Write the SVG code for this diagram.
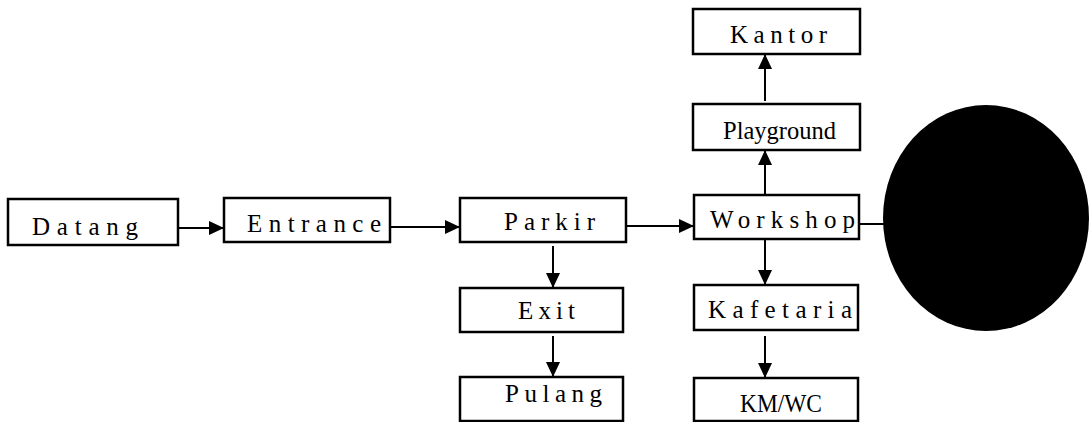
<svg xmlns="http://www.w3.org/2000/svg" width="1089" height="422" viewBox="0 0 1089 422">
<style>
.box{fill:#fff;stroke:#000;stroke-width:2.5}
.con{stroke:#000;stroke-width:2;fill:none}
.lbl{font-family:'Liberation Serif','Times New Roman',serif;font-size:25px;fill:#000}
</style>
<defs>
<marker id="ah" markerUnits="userSpaceOnUse" markerWidth="16" markerHeight="14" refX="15" refY="7" orient="auto">
<path d="M0,0 L15,7 L0,14 Z" fill="#000"/>
</marker>
</defs>
<rect width="1089" height="422" fill="#fff"/>
<g id="connectors">
<line class="con" x1="178" y1="228" x2="224" y2="228" marker-end="url(#ah)"/>
<line class="con" x1="390" y1="227" x2="460" y2="227" marker-end="url(#ah)"/>
<line class="con" x1="626" y1="226" x2="694" y2="226" marker-end="url(#ah)"/>
<line class="con" x1="859" y1="224" x2="884" y2="224"/>
<line class="con" x1="553" y1="246" x2="553" y2="288" marker-end="url(#ah)"/>
<line class="con" x1="553" y1="336" x2="553" y2="377" marker-end="url(#ah)"/>
<line class="con" x1="765" y1="239" x2="765" y2="285" marker-end="url(#ah)"/>
<line class="con" x1="765" y1="336" x2="765" y2="378" marker-end="url(#ah)"/>
<line class="con" x1="765" y1="195" x2="765" y2="150" marker-end="url(#ah)"/>
<line class="con" x1="765" y1="101" x2="765" y2="54" marker-end="url(#ah)"/>
</g>
<g id="datang"><rect class="box" x="8" y="199" width="170" height="46"/><text class="lbl" x="32" y="235" textLength="106" lengthAdjust="spacing">Datang</text></g>
<g id="entrance"><rect class="box" x="224" y="198" width="166" height="44"/><text class="lbl" x="247" y="232" textLength="134" lengthAdjust="spacing">Entrance</text></g>
<g id="parkir"><rect class="box" x="460" y="198" width="166" height="44"/><text class="lbl" x="504" y="230" textLength="91" lengthAdjust="spacing">Parkir</text></g>
<g id="workshop"><rect class="box" x="694" y="195" width="165" height="44"/><text class="lbl" x="710" y="228" textLength="145" lengthAdjust="spacing">Workshop</text></g>
<g id="exit"><rect class="box" x="460" y="288" width="163" height="44"/><text class="lbl" x="518" y="319" textLength="57" lengthAdjust="spacing">Exit</text></g>
<g id="pulang"><rect class="box" x="460" y="377" width="163" height="44"/><text class="lbl" x="505" y="402" textLength="97" lengthAdjust="spacing">Pulang</text></g>
<g id="kafetaria"><rect class="box" x="694" y="285" width="164" height="45"/><text class="lbl" x="708" y="318" textLength="144" lengthAdjust="spacing">Kafetaria</text></g>
<g id="kmwc"><rect class="box" x="694" y="378" width="164" height="43"/><text class="lbl" x="740" y="412" textLength="82" lengthAdjust="spacingAndGlyphs">KM/WC</text></g>
<g id="playground"><rect class="box" x="693" y="104" width="167" height="46"/><text class="lbl" x="723" y="139" textLength="113" lengthAdjust="spacingAndGlyphs">Playground</text></g>
<g id="kantor"><rect class="box" x="693" y="9" width="167" height="45"/><text class="lbl" x="730" y="43" textLength="97" lengthAdjust="spacing">Kantor</text></g>
<g id="circle"><ellipse cx="986" cy="218" rx="103" ry="113" fill="#000"/></g>
</svg>
